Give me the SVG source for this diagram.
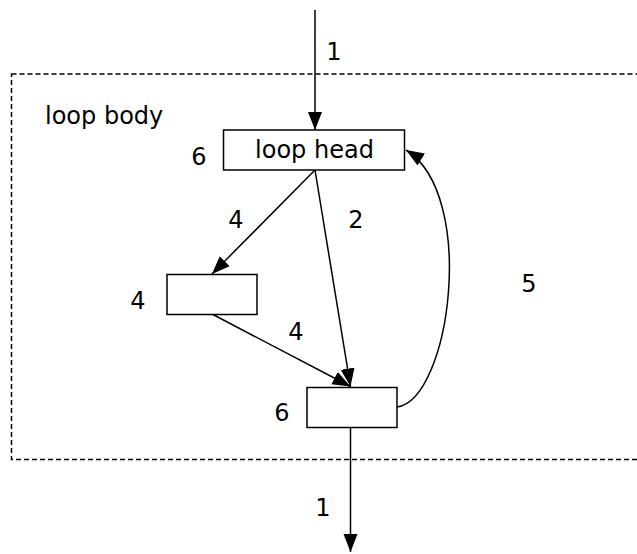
<svg xmlns="http://www.w3.org/2000/svg" width="637" height="554" viewBox="0 0 637 554">
<defs>
<marker id="ah" markerUnits="userSpaceOnUse" markerWidth="20" markerHeight="16" refX="18" refY="7" orient="auto">
<path d="M0,0 L18,7 L0,14 z" fill="#000"/>
</marker>
<style>
text{font-family:"DejaVu Sans","Liberation Sans",sans-serif;font-size:24px;fill:#000}
.c{text-anchor:middle}
.n{fill:#fff;stroke:#000;stroke-width:1.5}
.e{fill:none;stroke:#000;stroke-width:1.5;marker-end:url(#ah)}
</style>
</defs>
<rect x="0" y="0" width="637" height="554" fill="#fff"/>
<g id="loop-body">
<rect x="11.5" y="74" width="640" height="385.5" fill="none" stroke="#000" stroke-width="1.5" stroke-dasharray="5,3"/>
<text x="45" y="124">loop body</text>
</g>
<g id="connectors">
<path class="e" d="M315,10 L315,130"/>
<path class="e" d="M315,170 L212,274"/>
<path class="e" d="M315,170 L350.5,386.5"/>
<path class="e" d="M212,314 L350.5,386.5"/>
<path class="e" d="M397,407 C450,400 478,195 406,150"/>
<path class="e" d="M350.5,428 L350.5,552"/>
<text class="c" x="334" y="60">1</text>
<text class="c" x="236" y="228">4</text>
<text class="c" x="356" y="228">2</text>
<text class="c" x="296" y="340">4</text>
<text class="c" x="529" y="292">5</text>
<text class="c" x="323" y="516">1</text>
</g>
<g id="loop-head">
<rect class="n" x="223.5" y="130" width="181" height="40"/>
<text class="c" x="314.5" y="158">loop head</text>
<text class="c" x="199" y="165">6</text>
</g>
<g id="node-left">
<rect class="n" x="167" y="274.5" width="90" height="40"/>
<text class="c" x="138" y="309">4</text>
</g>
<g id="node-bottom">
<rect class="n" x="307" y="387.5" width="90" height="40"/>
<text class="c" x="282" y="421">6</text>
</g>
</svg>
